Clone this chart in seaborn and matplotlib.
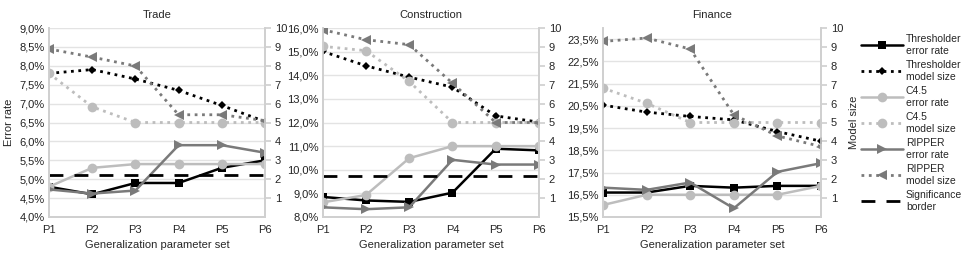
import numpy as np
import pandas as pd
import matplotlib
matplotlib.use("Agg")
import matplotlib.pyplot as plt
import matplotlib.ticker as mticker
import seaborn as sns

# Data
params = ["P1", "P2", "P3", "P4", "P5", "P6"]
sectors = ["Trade", "Construction", "Finance"]

# error rates in %, left axis
thr_err = {"Trade": [4.8, 4.6, 4.9, 4.9, 5.3, 5.5],
           "Construction": [8.85, 8.7, 8.64, 9.03, 10.89, 10.82],
           "Finance": [16.6, 16.6, 16.9, 16.82, 16.9, 16.9]}
c45_err = {"Trade": [4.8, 5.3, 5.4, 5.4, 5.4, 5.4],
           "Construction": [8.62, 8.93, 10.49, 11.0, 11.0, 11.0],
           "Finance": [16.04, 16.5, 16.5, 16.5, 16.5, 16.9]}
rip_err = {"Trade": [4.73, 4.62, 4.7, 5.9, 5.9, 5.7],
           "Construction": [8.41, 8.33, 8.41, 10.42, 10.22, 10.22],
           "Finance": [16.82, 16.72, 17.05, 15.89, 17.53, 17.92]}
significance = {"Trade": 5.1, "Construction": 9.75, "Finance": None}

# model sizes, right axis
thr_size = {"Trade": [7.6, 7.8, 7.3, 6.7, 5.9, 5.05],
            "Construction": [8.76, 8.0, 7.4, 6.87, 5.35, 5.02],
            "Finance": [5.92, 5.55, 5.32, 5.14, 4.52, 4.01]}
c45_size = {"Trade": [7.6, 5.83, 5.0, 5.0, 5.0, 5.0],
            "Construction": [9.03, 8.8, 7.17, 5.0, 5.0, 5.0],
            "Finance": [6.82, 6.02, 5.0, 5.0, 5.0, 5.0]}
rip_size = {"Trade": [8.89, 8.46, 7.99, 5.41, 5.41, 5.1],
            "Construction": [9.91, 9.38, 9.12, 7.08, 5.0, 5.0],
            "Finance": [9.29, 9.47, 8.89, 5.41, 4.29, 3.73]}

# left axis ranges (min, max, step)
left_range = {"Trade": (4.0, 9.0, 0.5),
              "Construction": (8.0, 16.0, 1.0),
              "Finance": (15.5, 24.0, 1.0)}

BLACK = "#000000"
LIGHT = "#bdbdbd"
MID = "#7a7a7a"
GRID = "#e3e3e3"

sns.set_theme(style="white")
plt.rcParams["font.family"] = ["Liberation Sans", "DejaVu Sans"]
plt.rcParams["font.size"] = 8

fig = plt.figure(figsize=(9.64, 2.6), dpi=100)
lefts = [49, 322.7, 603]
widths = [216, 216.3, 218]

pct_fmt = mticker.FuncFormatter(lambda v, p: f"{v:.1f}%".replace(".", ","))

for i, sec in enumerate(sectors):
    ax = fig.add_axes([lefts[i] / 964, 43 / 260, widths[i] / 964, 189 / 260])
    ax2 = ax.twinx()

    lo, hi, step = left_range[sec]
    ax.set_ylim(lo, hi)
    ax.yaxis.set_major_locator(mticker.FixedLocator(np.arange(lo, hi + 1e-6, step)))
    ax.yaxis.set_major_formatter(pct_fmt)
    ax.grid(axis="y", color=GRID, lw=1)
    ax.set_axisbelow(True)

    ax2.set_ylim(0, 10)
    ax2.set_yticks(range(1, 11))

    # error rates
    sns.lineplot(x=params, y=thr_err[sec], ax=ax, color=BLACK, lw=1.8,
                 marker="s", markersize=6, markeredgewidth=0, label="Thresholder\nerror rate")
    sns.lineplot(x=params, y=c45_err[sec], ax=ax, color=LIGHT, lw=1.8,
                 marker="o", markersize=7, markeredgewidth=0, label="C4.5\nerror rate")
    sns.lineplot(x=params, y=rip_err[sec], ax=ax, color=MID, lw=1.8,
                 marker=">", markersize=7, markeredgewidth=0, label="RIPPER\nerror rate")
    if significance[sec] is not None:
        ax.axhline(significance[sec], color=BLACK, lw=2, linestyle=(0, (5, 4)),
                   label="Significance\nborder")

    # model sizes
    sns.lineplot(x=params, y=thr_size[sec], ax=ax2, color=BLACK, lw=2,
                 linestyle=":", marker="D", markersize=4.5, markeredgewidth=0,
                 label="Thresholder\nmodel size")
    sns.lineplot(x=params, y=c45_size[sec], ax=ax2, color=LIGHT, lw=2,
                 linestyle=":", marker="o", markersize=7, markeredgewidth=0,
                 label="C4.5\nmodel size")
    sns.lineplot(x=params, y=rip_size[sec], ax=ax2, color=MID, lw=2,
                 linestyle=":", marker="<", markersize=7, markeredgewidth=0,
                 label="RIPPER\nmodel size")

    ax.set_xlim(0, 5)
    ax.set_title(sec, fontsize=8, pad=7)
    ax.set_xlabel("Generalization parameter set", fontsize=8, labelpad=3)
    ax.set_ylabel("Error rate" if i == 0 else "", fontsize=8)
    ax2.set_ylabel("Model size" if i == 2 else "", fontsize=8)

    for a in (ax, ax2):
        for s in a.spines.values():
            s.set_color("#d0d0d0")
        a.spines["top"].set_visible(False)
    ax.tick_params(axis="y", length=0, pad=3, labelsize=8, colors="#222222")
    ax.tick_params(axis="x", length=3, color="#d0d0d0", pad=3, labelsize=8)
    ax2.tick_params(axis="y", length=4, color="#d0d0d0", pad=3, labelsize=8)

    if i == 0:
        h1, l1 = ax.get_legend_handles_labels()
        h2, l2 = ax2.get_legend_handles_labels()
        hd = dict(zip(l1 + l2, h1 + h2))
    ax.get_legend().remove() if ax.get_legend() else None
    ax2.get_legend().remove() if ax2.get_legend() else None

order = ["Thresholder\nerror rate", "Thresholder\nmodel size",
         "C4.5\nerror rate", "C4.5\nmodel size",
         "RIPPER\nerror rate", "RIPPER\nmodel size", "Significance\nborder"]
fig.legend([hd[k] for k in order], order, loc="upper left",
           bbox_to_anchor=(857 / 964, 230 / 260), frameon=False, fontsize=7.5,
           handlelength=4, handletextpad=0.3, labelspacing=0.42, borderaxespad=0)

fig.savefig("out.png", dpi=100)
